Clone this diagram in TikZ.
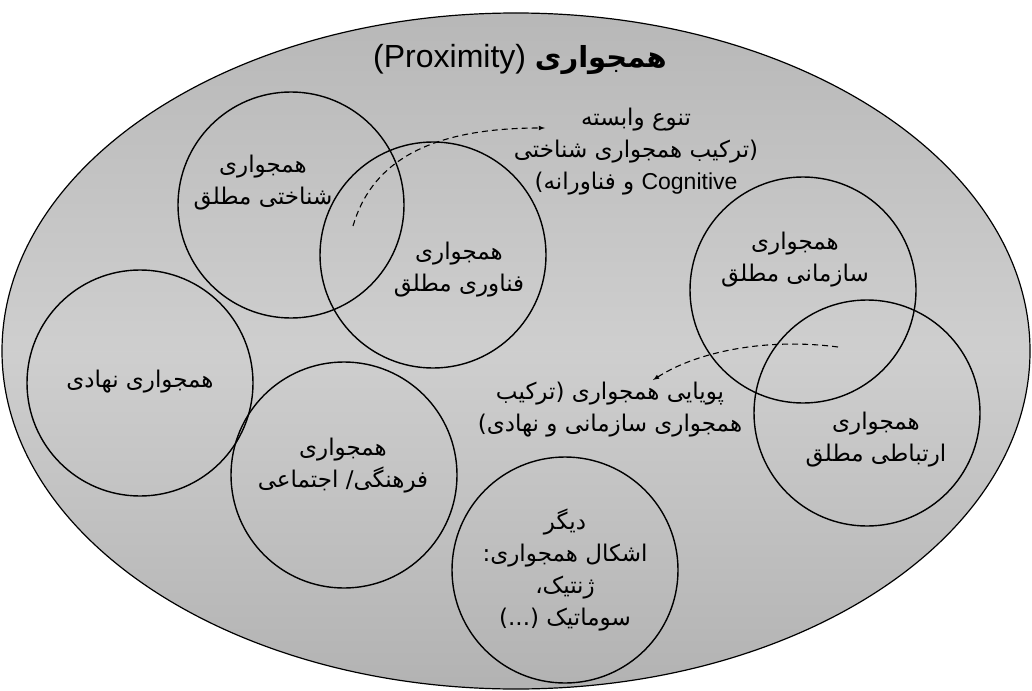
\documentclass[tikz,border=0pt]{standalone}
\usepackage{fontspec}
\setmainfont{Liberation Sans}
\newfontfamily\persianfont[Script=Arabic]{DejaVu Sans}
\TeXXeTstate=1

\tikzset{
  zone/.style={circle, draw, line width=1.4pt, minimum size=226pt, inner sep=0pt},
  lbl/.style={align=center, font=\persianfont\fontsize{23}{32}\selectfont},
  link/.style={->, >=latex, line width=1.1pt, dash pattern=on 6pt off 4pt},
}

\begin{document}
\begin{tikzpicture}[x=1pt,y=-1pt]
\useasboundingbox (0,0) rectangle (1032,690);
% outer field
\shadedraw[top color=gray!56, bottom color=gray!60, middle color=gray!38, line width=1.2pt]
  (516,351) ellipse [x radius=514pt, y radius=338pt];
\node (title) at (520,59) {\fontsize{32}{38}\selectfont\beginR{\persianfont\bfseries\fontsize{29}{38}\selectfont همجواری} \beginL(Proximity)\endL\endR};

% the circles
\node[zone] (cog) at (291,205) {};
\node[zone] (tech) at (433,255) {};
\node[zone] (org) at (803,290) {};
\node[zone] (comm) at (867,413) {};
\node[zone] (inst) at (140,383) {};
\node[zone] (cult) at (344,475) {};
\node[zone] (other) at (565,570) {};

% labels
\node[lbl] (cogtext) at (263,183) {\beginR همجواری\endR\\\beginR شناختی مطلق\endR};
\node[lbl] (techtext) at (459,270) {\beginR همجواری\endR\\\beginR فناوری مطلق\endR};
\node[lbl] (orgtext) at (795,260) {\beginR همجواری\endR\\\beginR سازمانی مطلق\endR};
\node[lbl] (commtext) at (876,440) {\beginR همجواری\endR\\\beginR ارتباطی مطلق\endR};
\node[lbl] (insttext) at (140,382) {\beginR همجواری نهادی\endR};
\node[lbl] (culttext) at (343,466) {\beginR همجواری\endR\\\beginR فرهنگی/ اجتماعی\endR};
\node[lbl] (othertext) at (565,570) {\beginR دیگر\endR\\\beginR اشکال همجواری:\endR\\\beginR ژنتیک،\endR\\\beginR سوماتیک (...)\endR};
\node[lbl] (divtext) at (636,152) {\beginR تنوع وابسته\endR\\\beginR (ترکیب همجواری شناختی\endR\\\beginR\beginL{\rmfamily Cognitive}\endL{} و فناورانه)\endR};
\node[lbl] (dyntext) at (610,410) {\beginR پویایی همجواری (ترکیب\endR\\\beginR همجواری سازمانی و نهادی)\endR};

% dashed links
\coordinate (s1) at (353,226);
\coordinate (e1) at (545,128);
\draw[link] (s1) .. controls (370,168) and (420,128) .. (e1);
\coordinate (s2) at (838,347);
\coordinate (e2) at (653,380);
\draw[link] (s2) .. controls (770,338) and (700,350) .. (e2);
\end{tikzpicture}
\end{document}
